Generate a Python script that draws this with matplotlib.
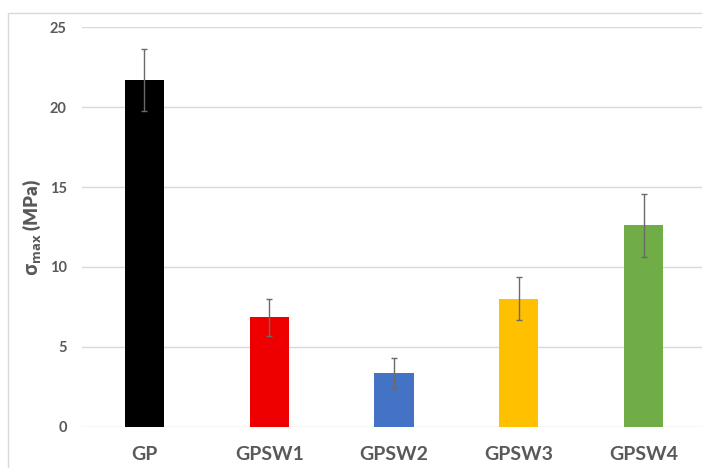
import matplotlib
matplotlib.use("Agg")
import matplotlib.pyplot as plt
from matplotlib.patches import Rectangle

# Maximum stress per sample with standard deviation
categories = ["GP", "GPSW1", "GPSW2", "GPSW3", "GPSW4"]
sigma_max = [21.7, 6.84, 3.37, 8.0, 12.6]
sigma_err = [1.95, 1.18, 0.93, 1.35, 1.98]
bar_colors = ["#000000", "#EE0000", "#4472C4", "#FFC000", "#70AD47"]
y_ticks = [0, 5, 10, 15, 20, 25]

plt.rcParams["font.family"] = ["Lato", "DejaVu Sans"]
plt.rcParams["mathtext.fontset"] = "custom"
plt.rcParams["mathtext.rm"] = "Open Sans:bold"
plt.rcParams["mathtext.it"] = "Open Sans:bold"
plt.rcParams["mathtext.bf"] = "Open Sans:bold"

text_gray = "#595959"
grid_gray = "#D9D9D9"

fig = plt.figure(figsize=(7.02, 4.68), dpi=100)
fig.patch.set_facecolor("white")

# chart-area border
fig.add_artist(Rectangle((8 / 702, -0.1), 1.2, (468 - 13.5) / 468 + 0.1,
                         transform=fig.transFigure, fill=False,
                         edgecolor="#D9D9D9", linewidth=1.0))

ax = fig.add_axes([82 / 702, 41.3 / 468, 624 / 702, 399.4 / 468])
x = range(len(categories))
ax.bar(x, sigma_max, width=0.315, color=bar_colors, zorder=3)
ax.errorbar(x, sigma_max, yerr=sigma_err, fmt="none", ecolor="#6A6A6A",
            elinewidth=1.0, capsize=2.5, capthick=1.0, zorder=4)

ax.set_xlim(-0.5, len(categories) - 0.5)
ax.set_ylim(0, 25)
ax.set_yticks(y_ticks)
ax.set_xticks(list(x))
ax.set_xticklabels(categories)

for s in ax.spines.values():
    s.set_visible(False)
ax.yaxis.grid(True, color=grid_gray, linewidth=1.0, zorder=0)
ax.set_axisbelow(True)
ax.tick_params(axis="both", length=0)
ax.tick_params(axis="y", pad=11, labelsize=10.5, labelcolor=text_gray)
ax.tick_params(axis="x", pad=14, labelsize=14, labelcolor=text_gray)
for lbl in ax.get_xticklabels() + ax.get_yticklabels():
    lbl.set_fontweight("bold")

ax.set_ylabel(r"$\mathrm{σ}_{\mathrm{max}}$ (MPa)", fontsize=13.5,
              fontweight="heavy", color=text_gray, labelpad=5)

fig.savefig("out.png", dpi=100, facecolor="white")
